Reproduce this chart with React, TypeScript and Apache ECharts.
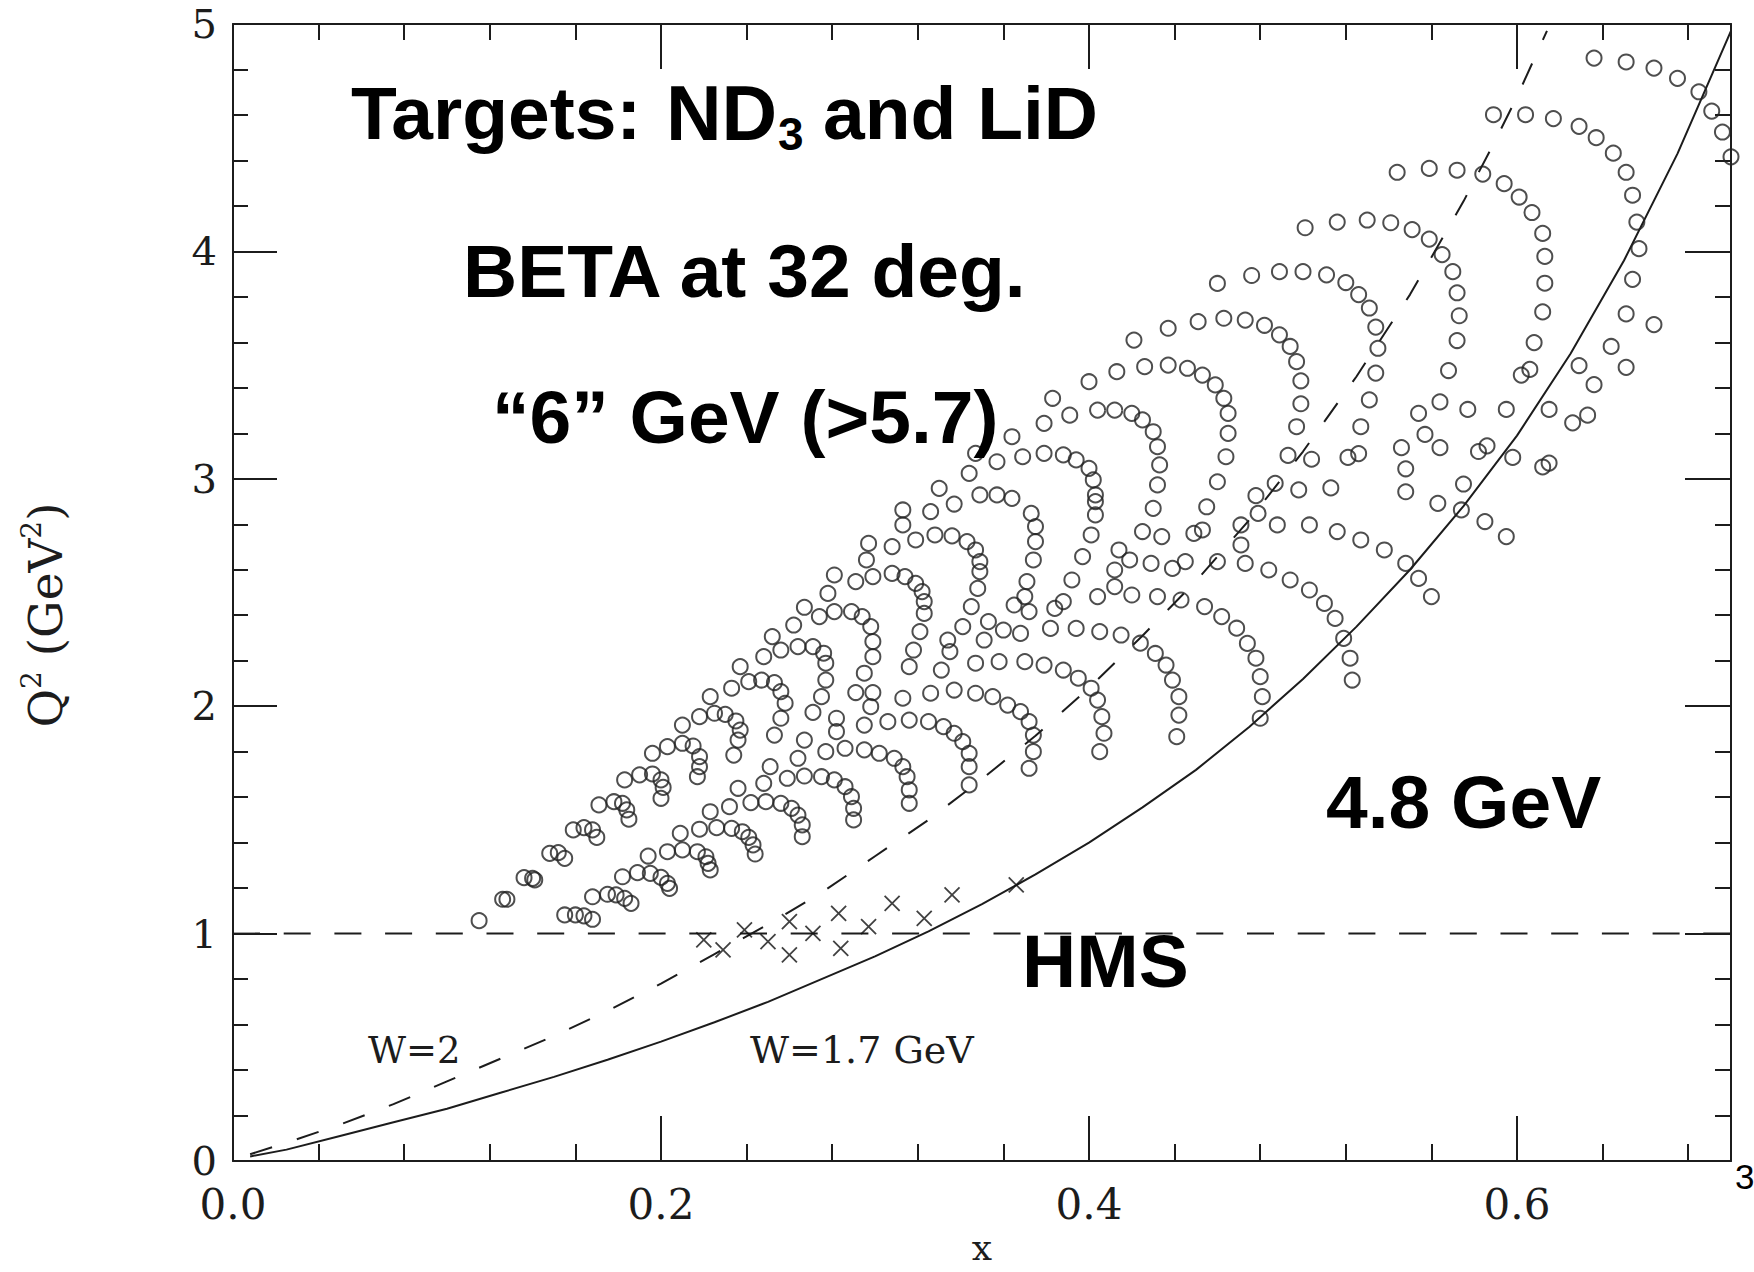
import React, { useEffect, useRef } from "react";
import * as echarts from "echarts";

// ---- axis values ----
const X_MIN = 0;
const X_MAX = 0.7;
const Y_MIN = 0;
const Y_MAX = 5;
const X_MAJOR = 0.2;
const X_MINOR = 0.04;
const Y_MAJOR = 1;

// ---- BETA "6" GeV coverage, upper band of arcs (x, Q^2) ----
const upperArcs: number[][] = [
  [0.115, 1.057],
  [0.126, 1.151], [0.128, 1.151],
  [0.136, 1.246], [0.14, 1.243], [0.141, 1.236],
  [0.148, 1.353], [0.152, 1.356], [0.155, 1.331],
  [0.159, 1.456], [0.164, 1.466], [0.168, 1.456], [0.17, 1.423],
  [0.171, 1.566], [0.178, 1.58], [0.182, 1.573], [0.184, 1.544], [0.185, 1.503],
  [0.183, 1.676], [0.19, 1.698], [0.196, 1.702], [0.2, 1.676], [0.201, 1.643], [0.2, 1.595],
  [0.196, 1.793], [0.203, 1.822], [0.21, 1.837], [0.215, 1.825], [0.218, 1.778], [0.218, 1.734], [0.217, 1.69],
  [0.21, 1.917], [0.218, 1.954], [0.225, 1.969], [0.23, 1.964], [0.235, 1.935], [0.237, 1.895], [0.236, 1.851], [0.234, 1.785],
  [0.223, 2.042], [0.233, 2.079], [0.241, 2.108], [0.247, 2.115], [0.253, 2.104], [0.256, 2.064], [0.258, 2.013], [0.256, 1.947], [0.253, 1.873],
  [0.237, 2.174], [0.248, 2.218], [0.256, 2.247], [0.264, 2.262], [0.271, 2.262], [0.276, 2.233], [0.277, 2.189], [0.277, 2.115], [0.275, 2.042], [0.271, 1.973],
  [0.252, 2.306], [0.262, 2.357], [0.274, 2.394], [0.281, 2.416], [0.289, 2.416], [0.294, 2.394], [0.298, 2.35], [0.299, 2.284], [0.299, 2.218], [0.295, 2.145], [0.291, 2.06], [0.299, 2.06], [0.298, 1.998], [0.295, 1.917],
  [0.267, 2.435], [0.278, 2.496], [0.291, 2.548], [0.299, 2.57],
  [0.281, 2.577], [0.296, 2.643],
  [0.297, 2.716],
];

// ---- lower band of arcs ----
const lowerArcs: number[][] = [
  [0.155, 1.082], [0.16, 1.082], [0.164, 1.078], [0.168, 1.063],
  [0.168, 1.162], [0.175, 1.173], [0.179, 1.17], [0.183, 1.155], [0.186, 1.133],
  [0.182, 1.25], [0.189, 1.268], [0.195, 1.265], [0.2, 1.247], [0.203, 1.221], [0.204, 1.199],
  [0.194, 1.341], [0.203, 1.36], [0.21, 1.368], [0.217, 1.36], [0.221, 1.338], [0.222, 1.309], [0.223, 1.28],
  [0.209, 1.441], [0.218, 1.459], [0.226, 1.466], [0.233, 1.463], [0.238, 1.448], [0.241, 1.423], [0.243, 1.39], [0.244, 1.35],
  [0.223, 1.536], [0.232, 1.558], [0.242, 1.576], [0.249, 1.58], [0.256, 1.573], [0.261, 1.551], [0.264, 1.521], [0.266, 1.478], [0.266, 1.426],
  [0.236, 1.639], [0.248, 1.661], [0.259, 1.683], [0.267, 1.693], [0.275, 1.69], [0.281, 1.676], [0.286, 1.646], [0.289, 1.602], [0.29, 1.551], [0.29, 1.5],
  [0.251, 1.734], [0.264, 1.771], [0.267, 1.851], [0.277, 1.8], [0.286, 1.815], [0.295, 1.808], [0.302, 1.793],
  [0.282, 1.947], [0.282, 1.888],
];

// ---- middle region ----
const midBand: number[][] = [
  [0.313, 2.863], [0.313, 2.797], [0.326, 2.856], [0.337, 2.889],
  [0.308, 2.702], [0.319, 2.731], [0.328, 2.753], [0.336, 2.749], [0.343, 2.724], [0.347, 2.687], [0.349, 2.636], [0.349, 2.592], [0.348, 2.518], [0.345, 2.438], [0.341, 2.35], [0.334, 2.291], [0.335, 2.24], [0.331, 2.159],
  [0.308, 2.584], [0.314, 2.57], [0.319, 2.54], [0.322, 2.504], [0.323, 2.46], [0.323, 2.408], [0.321, 2.328], [0.318, 2.247], [0.316, 2.174], [0.313, 2.035],
  [0.373, 2.848], [0.375, 2.79], [0.375, 2.724], [0.374, 2.643], [0.371, 2.548], [0.37, 2.482], [0.365, 2.445], [0.372, 2.416],
  [0.403, 2.9], [0.403, 2.841], [0.401, 2.753], [0.397, 2.658],
  [0.43, 2.87], [0.455, 2.877], [0.479, 2.848], [0.488, 2.797], [0.471, 2.797], [0.471, 2.709], [0.473, 2.628], [0.484, 2.599], [0.494, 2.555],
  [0.425, 2.768], [0.434, 2.746], [0.449, 2.76], [0.453, 2.775],
  [0.414, 2.687], [0.419, 2.643], [0.429, 2.628], [0.439, 2.606], [0.445, 2.636], [0.46, 2.636],
  [0.412, 2.599], [0.412, 2.526], [0.404, 2.482], [0.42, 2.489], [0.432, 2.482], [0.443, 2.467], [0.454, 2.438], [0.462, 2.394], [0.469, 2.343], [0.474, 2.276], [0.478, 2.211], [0.48, 2.13], [0.481, 2.042], [0.48, 1.947],
  [0.392, 2.555], [0.388, 2.46], [0.384, 2.43], [0.382, 2.342], [0.394, 2.342], [0.405, 2.328], [0.415, 2.313], [0.424, 2.277], [0.431, 2.232], [0.436, 2.181], [0.439, 2.115], [0.442, 2.042], [0.442, 1.961], [0.441, 1.866],
  [0.353, 2.372], [0.36, 2.335], [0.368, 2.32], [0.351, 2.291], [0.347, 2.189], [0.358, 2.196], [0.37, 2.196], [0.379, 2.181], [0.388, 2.159], [0.395, 2.123], [0.401, 2.079], [0.404, 2.027], [0.406, 1.954], [0.407, 1.881], [0.405, 1.8],
  [0.326, 2.057], [0.337, 2.071], [0.347, 2.057], [0.355, 2.042], [0.362, 2.005], [0.368, 1.976], [0.372, 1.932], [0.374, 1.873], [0.374, 1.8], [0.372, 1.727],
  [0.306, 1.932], [0.316, 1.939], [0.325, 1.932], [0.332, 1.91], [0.337, 1.881], [0.341, 1.844], [0.344, 1.793], [0.344, 1.734], [0.344, 1.654],
  [0.309, 1.771], [0.313, 1.734], [0.315, 1.69], [0.316, 1.632], [0.316, 1.573],
];

// ---- middle, high Q^2 ----
const midHighBand: number[][] = [
  [0.46, 3.859],
  [0.421, 3.61], [0.437, 3.662], [0.451, 3.691], [0.463, 3.706], [0.473, 3.698],
  [0.4, 3.427], [0.413, 3.471], [0.426, 3.493], [0.437, 3.5], [0.446, 3.486], [0.453, 3.456], [0.459, 3.413], [0.463, 3.354], [0.465, 3.288], [0.465, 3.2], [0.464, 3.097], [0.46, 2.987],
  [0.383, 3.354], [0.379, 3.244], [0.391, 3.28], [0.404, 3.302], [0.412, 3.302], [0.42, 3.288], [0.425, 3.259], [0.43, 3.207], [0.432, 3.141], [0.433, 3.061], [0.432, 2.973],
  [0.364, 3.185], [0.347, 3.112], [0.357, 3.075], [0.369, 3.097], [0.379, 3.112], [0.388, 3.105], [0.394, 3.083], [0.4, 3.046], [0.402, 2.995], [0.403, 2.929],
  [0.344, 3.024], [0.33, 2.958], [0.349, 2.929], [0.357, 2.929], [0.364, 2.914],
];

// ---- right, low Q^2 ----
const rightLowBand: number[][] = [
  [0.563, 2.892], [0.574, 2.863], [0.585, 2.812], [0.595, 2.746],
  [0.503, 2.797], [0.516, 2.768], [0.527, 2.731], [0.538, 2.687], [0.548, 2.628], [0.554, 2.562], [0.56, 2.482],
  [0.503, 2.511], [0.51, 2.452], [0.515, 2.386], [0.519, 2.298], [0.522, 2.211], [0.523, 2.115],
];

// ---- right, high Q^2 ----
const rightHighBand: number[][] = [
  [0.636, 4.85], [0.651, 4.833], [0.664, 4.806], [0.675, 4.761], [0.685, 4.702], [0.691, 4.617], [0.696, 4.525], [0.7, 4.416],
  [0.589, 4.601], [0.604, 4.601], [0.617, 4.584], [0.629, 4.55], [0.637, 4.5], [0.645, 4.432], [0.651, 4.348], [0.654, 4.247], [0.656, 4.129], [0.657, 4.012], [0.654, 3.877], [0.651, 3.725], [0.644, 3.582], [0.651, 3.49], [0.664, 3.678], [0.636, 3.414], [0.629, 3.498], [0.633, 3.28], [0.626, 3.246],
  [0.544, 4.348], [0.559, 4.365], [0.572, 4.357], [0.584, 4.34], [0.594, 4.298], [0.601, 4.239], [0.607, 4.171], [0.612, 4.079], [0.613, 3.978], [0.613, 3.86], [0.612, 3.734], [0.608, 3.599], [0.606, 3.481], [0.602, 3.456], [0.595, 3.305], [0.577, 3.305], [0.564, 3.338], [0.554, 3.288], [0.557, 3.195], [0.564, 3.137], [0.546, 3.137], [0.548, 3.044], [0.548, 2.943], [0.575, 2.977], [0.615, 3.305], [0.582, 3.12], [0.586, 3.145], [0.598, 3.094], [0.612, 3.052], [0.615, 3.069],
  [0.501, 4.104], [0.516, 4.129], [0.53, 4.138], [0.541, 4.126], [0.551, 4.096], [0.559, 4.054], [0.565, 3.986], [0.57, 3.911], [0.572, 3.818], [0.573, 3.717], [0.572, 3.608], [0.568, 3.476],
  [0.476, 3.894], [0.489, 3.911], [0.5, 3.911], [0.511, 3.897], [0.52, 3.863], [0.526, 3.81], [0.531, 3.751], [0.534, 3.667], [0.535, 3.574], [0.534, 3.465], [0.531, 3.347], [0.527, 3.229], [0.526, 3.111], [0.521, 3.094], [0.513, 2.96], [0.498, 2.951],
  [0.482, 3.675], [0.489, 3.633], [0.494, 3.582], [0.497, 3.515], [0.499, 3.431], [0.499, 3.33], [0.497, 3.229], [0.493, 3.103], [0.504, 3.086], [0.478, 2.926], [0.487, 2.98],
];

// ---- HMS points (crosses) ----
const hmsCrosses: number[][] = [
  [0.22, 0.972], [0.229, 0.928], [0.239, 1.016], [0.25, 0.965], [0.26, 1.053], [0.26, 0.906], [0.271, 1.001],
  [0.283, 1.089], [0.284, 0.935], [0.297, 1.031], [0.308, 1.133], [0.323, 1.067], [0.336, 1.17], [0.366, 1.214],
];

// ---- kinematic boundary curves ----
const w2Curve: number[][] = [
  [0.008, 0.03], [0.025, 0.08], [0.05, 0.16], [0.075, 0.25], [0.1, 0.35], [0.125, 0.45], [0.15, 0.55],
  [0.175, 0.66], [0.2, 0.78], [0.225, 0.91], [0.25, 1.04], [0.275, 1.18], [0.3, 1.34], [0.325, 1.5],
  [0.35, 1.68], [0.375, 1.87], [0.4, 2.08], [0.425, 2.31], [0.45, 2.55], [0.475, 2.82], [0.5, 3.12],
  [0.525, 3.45], [0.55, 3.81], [0.575, 4.22], [0.59, 4.49], [0.6, 4.68], [0.614, 4.97],
];
const w17Curve: number[][] = [
  [0.008, 0.02], [0.025, 0.05], [0.05, 0.11], [0.075, 0.17], [0.1, 0.23], [0.125, 0.3], [0.15, 0.37],
  [0.175, 0.445], [0.2, 0.525], [0.225, 0.61], [0.25, 0.7], [0.275, 0.8], [0.3, 0.9], [0.325, 1.01],
  [0.35, 1.13], [0.375, 1.26], [0.4, 1.4], [0.425, 1.555], [0.45, 1.72], [0.475, 1.91], [0.5, 2.12],
  [0.525, 2.35], [0.55, 2.6], [0.575, 2.88], [0.6, 3.19], [0.625, 3.55], [0.65, 3.96], [0.675, 4.43], [0.7, 4.97],
];
const hmsLine: number[][] = [[0, 1], [0.7, 1]];

const INK = "#1c1c1c";
const SERIF = "DejaVu Serif";
const SANS = "Liberation Sans, Arial, sans-serif";

export default function App() {
  const ref = useRef<HTMLDivElement>(null);

  useEffect(() => {
    document.body.style.margin = "0";
    const chart = echarts.init(ref.current!, null, { renderer: "svg" });

    const gridRect = { left: 233, top: 24, width: 1498, height: 1137 };
    const lineStyle = { color: INK, width: 2 };

    const circleSeries = (data: number[][]) => ({
      type: "scatter",
      xAxisIndex: 0,
      yAxisIndex: 0,
      data,
      symbol: "circle",
      symbolSize: 15,
      clip: false,
      silent: true,
      itemStyle: { color: "rgba(0,0,0,0)", borderColor: "#222", borderWidth: 2 },
      z: 3,
    });

    const option: any = {
      animation: false,
      backgroundColor: "#ffffff",
      grid: [
        { ...gridRect, containLabel: false },
        { ...gridRect, containLabel: false },
      ],
      xAxis: [
        {
          type: "value", gridIndex: 0, min: X_MIN, max: X_MAX, interval: X_MAJOR, position: "bottom",
          axisLine: { show: true, onZero: false, lineStyle },
          axisTick: { show: true, inside: true, length: 45, lineStyle },
          axisLabel: {
            show: true, margin: 22, fontFamily: SERIF, fontSize: 42, color: INK,
            showMaxLabel: false,
            formatter: (v: number) => (Math.abs(v - X_MAX) < 1e-6 ? "" : v.toFixed(1)),
          },
          splitLine: { show: false },
        },
        {
          type: "value", gridIndex: 0, min: X_MIN, max: X_MAX, interval: X_MAJOR, position: "top",
          axisLine: { show: true, onZero: false, lineStyle },
          axisTick: { show: true, inside: true, length: 45, lineStyle },
          axisLabel: { show: false },
          splitLine: { show: false },
        },
        {
          type: "value", gridIndex: 1, min: X_MIN, max: X_MAX, interval: X_MINOR, position: "bottom",
          axisLine: { show: false, onZero: false },
          axisTick: { show: true, inside: true, length: 17, lineStyle },
          axisLabel: { show: false },
          splitLine: { show: false },
        },
        {
          type: "value", gridIndex: 1, min: X_MIN, max: X_MAX, interval: X_MINOR, position: "top",
          axisLine: { show: false, onZero: false },
          axisTick: { show: true, inside: true, length: 16, lineStyle },
          axisLabel: { show: false },
          splitLine: { show: false },
        },
      ],
      yAxis: [
        {
          type: "value", gridIndex: 0, min: Y_MIN, max: Y_MAX, interval: Y_MAJOR, position: "left",
          axisLine: { show: true, onZero: false, lineStyle },
          axisTick: { show: true, inside: true, length: 44, lineStyle },
          minorTick: { show: true, splitNumber: 5, length: 15, lineStyle },
          axisLabel: { show: true, margin: 16, fontFamily: SERIF, fontSize: 40, color: INK },
          splitLine: { show: false },
          minorSplitLine: { show: false },
        },
        {
          type: "value", gridIndex: 0, min: Y_MIN, max: Y_MAX, interval: Y_MAJOR, position: "right",
          axisLine: { show: true, onZero: false, lineStyle },
          axisTick: { show: true, inside: true, length: 46, lineStyle },
          minorTick: { show: true, splitNumber: 5, length: 16, lineStyle },
          axisLabel: { show: false },
          splitLine: { show: false },
          minorSplitLine: { show: false },
        },
        {
          type: "value", gridIndex: 1, min: Y_MIN, max: Y_MAX, show: false,
        },
      ],
      series: [
        {
          type: "line", xAxisIndex: 0, yAxisIndex: 0, data: hmsLine, symbol: "none", silent: true,
          lineStyle: { color: INK, width: 2, type: [27, 23.7] }, z: 2,
        },
        {
          type: "line", xAxisIndex: 0, yAxisIndex: 0, data: w2Curve, symbol: "none", silent: true,
          lineStyle: { color: INK, width: 2, type: [23, 26] }, z: 2,
        },
        {
          type: "line", xAxisIndex: 0, yAxisIndex: 0, data: w17Curve, symbol: "none", silent: true,
          lineStyle: { color: INK, width: 2 }, z: 2,
        },
        circleSeries(upperArcs),
        circleSeries(lowerArcs),
        circleSeries(midBand),
        circleSeries(midHighBand),
        circleSeries(rightLowBand),
        circleSeries(rightHighBand),
        {
          type: "scatter", xAxisIndex: 0, yAxisIndex: 0, data: hmsCrosses,
          symbol: "path://M0 0L10 10M10 0L0 10", symbolSize: 15, clip: false, silent: true,
          itemStyle: { color: "none", borderColor: "#111", borderWidth: 1.8 }, z: 3,
        },
      ],
      graphic: [
        { type: "text", x: 351, y: 113, z: 10, style: { text: "Targets:", font: `bold 75px ${SANS}`, fill: "#000", align: "left", verticalAlign: "middle" } },
        { type: "text", x: 666, y: 113, z: 10, style: { text: "ND", font: `bold 77px ${SANS}`, fill: "#000", align: "left", verticalAlign: "middle" } },
        { type: "text", x: 778, y: 134, z: 10, style: { text: "3", font: `bold 46px ${SANS}`, fill: "#000", align: "left", verticalAlign: "middle" } },
        { type: "text", x: 1098, y: 113, z: 10, style: { text: "and LiD", font: `bold 75px ${SANS}`, fill: "#000", align: "right", verticalAlign: "middle" } },
        { type: "text", x: 463, y: 271, z: 10, style: { text: "BETA at 32 deg.", font: `bold 75px ${SANS}`, fill: "#000", align: "left", verticalAlign: "middle" } },
        { type: "text", x: 492, y: 417, z: 10, style: { text: "\u201C6\u201D GeV (>5.7)", font: `bold 75px ${SANS}`, fill: "#000", align: "left", verticalAlign: "middle" } },
        { type: "text", x: 1326, y: 802, z: 10, style: { text: "4.8 GeV", font: `bold 75px ${SANS}`, fill: "#000", align: "left", verticalAlign: "middle" } },
        { type: "text", x: 1022, y: 961, z: 10, style: { text: "HMS", font: `bold 75px ${SANS}`, fill: "#000", align: "left", verticalAlign: "middle" } },
        { type: "text", x: 368, y: 1050, z: 10, style: { text: "W=2", font: `37px ${SERIF}`, fill: INK, align: "left", verticalAlign: "middle" } },
        { type: "text", x: 750, y: 1050, z: 10, style: { text: "W=1.7 GeV", font: `38px ${SERIF}`, fill: INK, align: "left", verticalAlign: "middle" } },
        { type: "text", x: 982, y: 1247, z: 10, style: { text: "x", font: `36px ${SERIF}`, fill: INK, align: "center", verticalAlign: "middle" } },
        {
          type: "text", x: 45, y: 615, rotation: Math.PI / 2, z: 10,
          style: {
            text: "{a|Q}{s|2}{a| (GeV}{s|2}{a|)}",
            align: "center", verticalAlign: "middle",
            rich: {
              a: { fontFamily: SERIF, fontSize: 47, fill: INK, color: INK, lineHeight: 56, verticalAlign: "middle" },
              s: { fontFamily: SERIF, fontSize: 28, fill: INK, color: INK, verticalAlign: "top" },
            },
          },
        },
        { type: "text", x: 1735, y: 1176, z: 10, style: { text: "3", font: `35px ${SANS}`, fill: "#000", align: "left", verticalAlign: "middle" } },
      ],
    };

    chart.setOption(option);
    return () => chart.dispose();
  }, []);

  return <div ref={ref} style={{ width: 1754, height: 1272 }} />;
}
